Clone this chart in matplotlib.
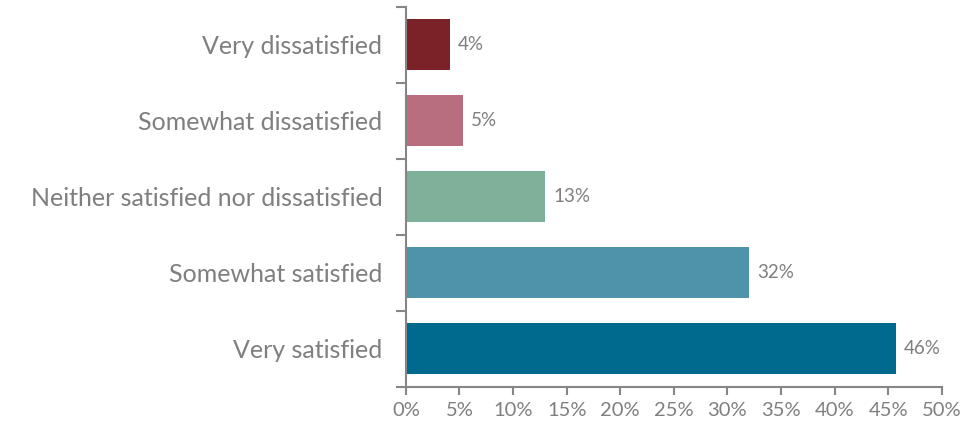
import numpy as np
import matplotlib.pyplot as plt
from matplotlib.ticker import MultipleLocator, FuncFormatter

categories = ["Very satisfied", "Somewhat satisfied",
              "Neither satisfied nor dissatisfied",
              "Somewhat dissatisfied", "Very dissatisfied"]
values = [45.7, 32.0, 13.0, 5.3, 4.1]
labels = ["46%", "32%", "13%", "5%", "4%"]
colors = ["#006A8E", "#4F93AA", "#7EB09A", "#B86E7E", "#7A2228"]

plt.rcParams['font.family'] = ['Lato', 'DejaVu Sans']
gray = "#7F7F7F"

fig = plt.figure(figsize=(9.78, 4.29), dpi=100)
ax = fig.add_axes([0.415, 0.098, 0.548, 0.886])

y = np.arange(len(categories))
ax.barh(y, values, height=0.67, color=colors)
for yi, v, lab in zip(y, values, labels):
    ax.text(v + 0.75, yi, lab, va='center', ha='left', fontsize=13.5, color=gray)

ax.set_xlim(0, 50)
ax.set_ylim(-0.5, len(categories) - 0.5)
ax.xaxis.set_major_locator(MultipleLocator(5))
ax.xaxis.set_major_formatter(FuncFormatter(lambda v, p: f"{v:.0f}%"))
ax.set_yticks(y)
ax.set_yticklabels(categories)
ax.set_yticks(np.arange(-0.5, len(categories)), minor=True)

for s in ['top', 'right']:
    ax.spines[s].set_visible(False)
for s in ['left', 'bottom']:
    ax.spines[s].set_color("#868686")
    ax.spines[s].set_linewidth(1.5)

ax.tick_params(axis='x', colors="#868686", labelcolor=gray, labelsize=14.5,
               length=6, width=1.5, pad=5)
ax.tick_params(axis='y', which='major', length=0, labelcolor=gray,
               labelsize=18, pad=17)
ax.tick_params(axis='y', which='minor', length=7, width=1.5, colors="#868686")

fig.savefig("out.png", dpi=100)
